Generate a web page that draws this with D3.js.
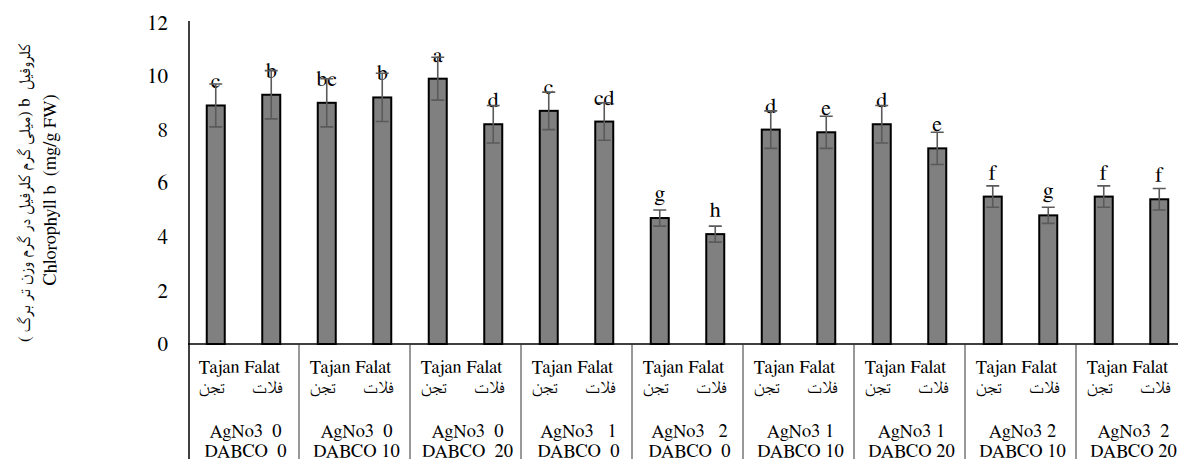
<!DOCTYPE html>
<html>
<head>
<meta charset="utf-8">
<script src="https://cdn.jsdelivr.net/npm/d3@7/dist/d3.min.js"></script>
<style>
  html, body { margin: 0; padding: 0; background: #fff; }
  svg { display: block; }
</style>
</head>
<body>
<svg id="chart" width="1178" height="459"></svg>
<script>
// Treatment groups (AgNO3 / DABCO levels)
const agLabels    = ["AgNo3  0", "AgNo3  0", "AgNo3  0", "AgNo3   1", "AgNo3   2", "AgNo3 1", "AgNo3 1", "AgNo3 2", "AgNo3  2"];
const dabcoLabels = ["DABCO  0", "DABCO 10", "DABCO  20", "DABCO  0", "DABCO  0", "DABCO 10", "DABCO 20", "DABCO 10", "DABCO 20"];

// Cultivars within each group
const cultivars   = ["Tajan", "Falat"];
const cultivarsFa = ["تجن", "فلات"];

// Chlorophyll b (mg/g FW), standard errors and significance letters
const tajanValues  = [8.9, 9.0, 9.9, 8.7, 4.7, 8.0, 8.2, 5.5, 5.5];
const falatValues  = [9.3, 9.2, 8.2, 8.3, 4.1, 7.9, 7.3, 4.8, 5.4];
const tajanErrors  = [0.8, 0.9, 0.8, 0.7, 0.3, 0.7, 0.7, 0.4, 0.4];
const falatErrors  = [0.9, 0.9, 0.7, 0.7, 0.3, 0.6, 0.6, 0.3, 0.4];
const tajanLetters = ["c", "bc", "a", "c", "g", "d", "d", "f", "f"];
const falatLetters = ["b", "b", "d", "cd", "h", "e", "e", "g", "f"];

const yTicks = [0, 2, 4, 6, 8, 10, 12];

const yTitleFa = "کلروفیل  b (میلی گرم کلرفیل در گرم وزن تر برگ )";
const yTitleEn = "Chlorophyll b  (mg/g FW)";

const SERIF = "FreeSerif, 'Liberation Serif', serif";
const ARABIC = "FreeSerif";

const groupIds = agLabels.map((_, i) => i);
const rows = [];
groupIds.forEach(i => {
  rows.push({ group: i, cultivar: "Tajan", value: tajanValues[i], err: tajanErrors[i], letter: tajanLetters[i] });
  rows.push({ group: i, cultivar: "Falat", value: falatValues[i], err: falatErrors[i], letter: falatLetters[i] });
});

const svg = d3.select("#chart");
const H = 459;
const left = 188, right = 1187;
const baseY = 344;

const x0 = d3.scaleBand().domain(groupIds).range([left, right]).padding(0);
const x1 = d3.scaleBand().domain(cultivars).range([0, x0.bandwidth()]).padding(0);
const y = d3.scaleLinear().domain([0, 12]).range([baseY, 22.4]);
const barW = 18;
const cx = d => x0(d.group) + x1(d.cultivar) + x1.bandwidth() / 2;

// Y axis tick labels
const yAxis = d3.axisLeft(y).tickValues(yTicks).tickSize(0).tickPadding(21).tickFormat(d3.format("d"));
const gy = svg.append("g").attr("transform", `translate(${left + 1},0)`).call(yAxis)
  .attr("font-family", SERIF).attr("font-size", 21);
gy.select(".domain").remove();
gy.selectAll("text").attr("fill", "#000");

// Bars
svg.append("g").selectAll("rect").data(rows).join("rect")
  .attr("x", d => cx(d) - barW / 2)
  .attr("y", d => y(d.value))
  .attr("width", barW)
  .attr("height", d => y(0) - y(d.value))
  .attr("fill", "#808080")
  .attr("stroke", "#000")
  .attr("stroke-width", 2);

// Significance letters
svg.append("g").attr("font-family", SERIF).attr("font-size", 22)
  .selectAll("text").data(rows).join("text")
  .attr("x", d => cx(d))
  .attr("y", d => y(d.value) - 17)
  .attr("text-anchor", "middle")
  .attr("fill", "#000")
  .text(d => d.letter);

// Error bars
const eb = svg.append("g").attr("stroke", "#5a5a5a").attr("stroke-width", 1.6).attr("fill", "none");
const capW = 6.5;
eb.selectAll("path").data(rows).join("path")
  .attr("d", d => {
    const c = cx(d), hi = y(d.value + d.err), lo = y(d.value - d.err);
    return `M${c},${hi}V${lo}M${c - capW},${hi}H${c + capW}M${c - capW},${lo}H${c + capW}`;
  });

// Axis lines and category table
const lines = svg.append("g").attr("stroke", "#000").attr("fill", "none");
lines.append("line").attr("x1", left + 1).attr("x2", left + 1).attr("y1", y(12) - 1.5).attr("y2", H)
  .attr("stroke-width", 1.5);
lines.append("line").attr("x1", left).attr("x2", right).attr("y1", baseY).attr("y2", baseY)
  .attr("stroke-width", 1.5);
lines.selectAll("line.sep").data(groupIds.slice(1).concat([groupIds.length])).join("line")
  .attr("class", "sep")
  .attr("x1", d => d < groupIds.length ? x0(d) : right)
  .attr("x2", d => d < groupIds.length ? x0(d) : right)
  .attr("y1", baseY).attr("y2", H)
  .attr("stroke", "#333").attr("stroke-width", 1);

const tbl = svg.append("g").attr("font-family", SERIF).attr("font-size", 18.5);
groupIds.forEach(i => {
  const gc = x0(i) + x0.bandwidth() / 2;
  tbl.append("text")
    .attr("x", gc - 4).attr("y", 372.5).attr("text-anchor", "middle")
    .text(cultivars.join(" "));
  cultivars.forEach((c, j) => {
    tbl.append("text")
      .attr("x", x0(i) + x1(c) + x1.bandwidth() / 2 - 4).attr("y", 393)
      .attr("text-anchor", "middle")
      .attr("font-family", ARABIC).attr("font-size", 18)
      .text(cultivarsFa[j]);
  });
  tbl.append("text")
    .attr("x", gc + 2).attr("y", 437).attr("text-anchor", "middle")
    .style("white-space", "pre").text(agLabels[i]);
  tbl.append("text")
    .attr("x", gc + 2).attr("y", 456.5).attr("text-anchor", "middle")
    .style("white-space", "pre").text(dabcoLabels[i]);
});

// Y axis titles (Persian and English)
svg.append("text")
  .attr("transform", "translate(30,193) rotate(-90)")
  .attr("text-anchor", "middle").attr("direction", "rtl")
  .attr("font-family", ARABIC).attr("font-size", 17)
  .style("white-space", "pre")
  .text(yTitleFa);
svg.append("text")
  .attr("transform", "translate(56,190) rotate(-90)")
  .attr("text-anchor", "middle")
  .attr("font-family", SERIF).attr("font-size", 18.5)
  .style("white-space", "pre")
  .text(yTitleEn);
</script>
</body>
</html>
